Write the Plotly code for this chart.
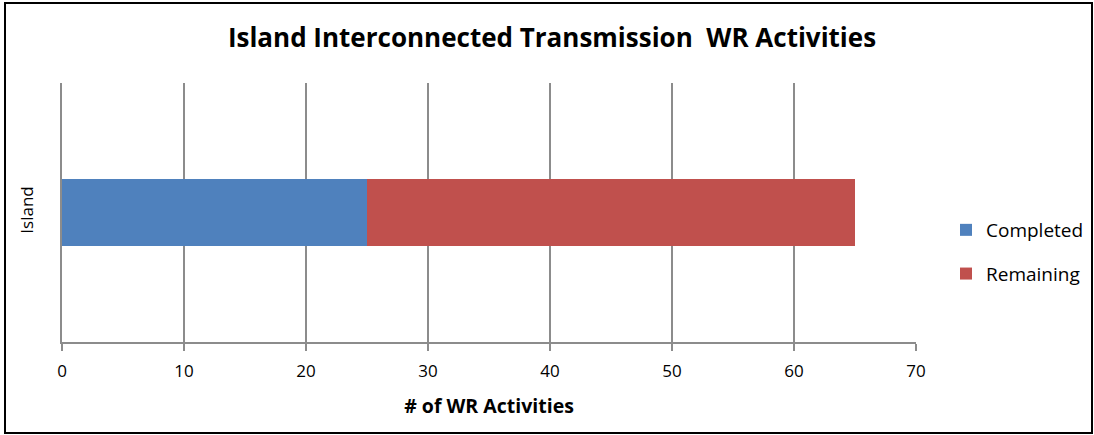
import plotly.graph_objects as go

categories = ["Island"]
completed = [25]
remaining = [40]
series_names = ["Completed", "Remaining"]
x_ticks = [0, 10, 20, 30, 40, 50, 60, 70]

W, H = 1094, 435
L, R, T, B = 62, 178, 83, 93
pw, ph = W - L - R, H - T - B

fig = go.Figure()
fig.add_trace(go.Bar(y=categories, x=completed, name=series_names[0], orientation="h",
                     legendgroup="a",
                     marker=dict(color="#4F81BD", line=dict(width=0)), width=0.255))
fig.add_trace(go.Bar(y=categories, x=remaining, name=series_names[1], orientation="h",
                     legendgroup="b",
                     marker=dict(color="#C0504D", line=dict(width=0)), width=0.255))

font_family = "Open Sans, Liberation Sans, sans-serif"

fig.update_layout(
    width=W, height=H,
    margin=dict(l=L, r=R, t=T, b=B, autoexpand=False),
    barmode="stack",
    paper_bgcolor="white", plot_bgcolor="white",
    font=dict(family=font_family, size=17, color="#000000"),
    title=dict(text="<b>Island Interconnected Transmission  WR Activities</b>",
               x=552 / W, xanchor="center", y=1 - 38 / H, yanchor="middle",
               font=dict(size=26, family=font_family, color="#000000")),
    xaxis=dict(range=[0, 70], tickvals=x_ticks, showgrid=True, gridcolor="#8C8C8C", gridwidth=2,
               showline=True, linecolor="#8C8C8C", linewidth=2,
               ticks="outside", ticklen=7, tickcolor="#8C8C8C", tickwidth=2,
               tickfont=dict(size=17), zeroline=False, ticklabelstandoff=6,
               title=dict(text="<b># of WR Activities</b>", font=dict(size=19.5), standoff=18)),
    yaxis=dict(showgrid=False, showline=True, linecolor="#8C8C8C", linewidth=2,
               range=[-0.5, 0.5], tickangle=-90, ticks="", ticklabelstandoff=20,
               tickfont=dict(size=17)),
    legend=dict(x=(946 - L) / pw, xanchor="left", y=1 - (252 - T) / ph, yanchor="middle",
                font=dict(size=19), tracegroupgap=16, itemwidth=30,
                traceorder="grouped", bgcolor="rgba(0,0,0,0)"),
    bargap=0,
    shapes=[dict(type="rect", xref="paper", yref="paper",
                 x0=(5 - L) / pw, x1=(1092 - L) / pw,
                 y0=(H - B - 433) / ph, y1=(H - B - 3) / ph,
                 line=dict(color="black", width=2), fillcolor="rgba(0,0,0,0)", layer="below")],
)

fig.write_html("out.html", config={"displayModeBar": False},
               post_script="document.body.style.margin='0';document.body.style.overflow='hidden';")
